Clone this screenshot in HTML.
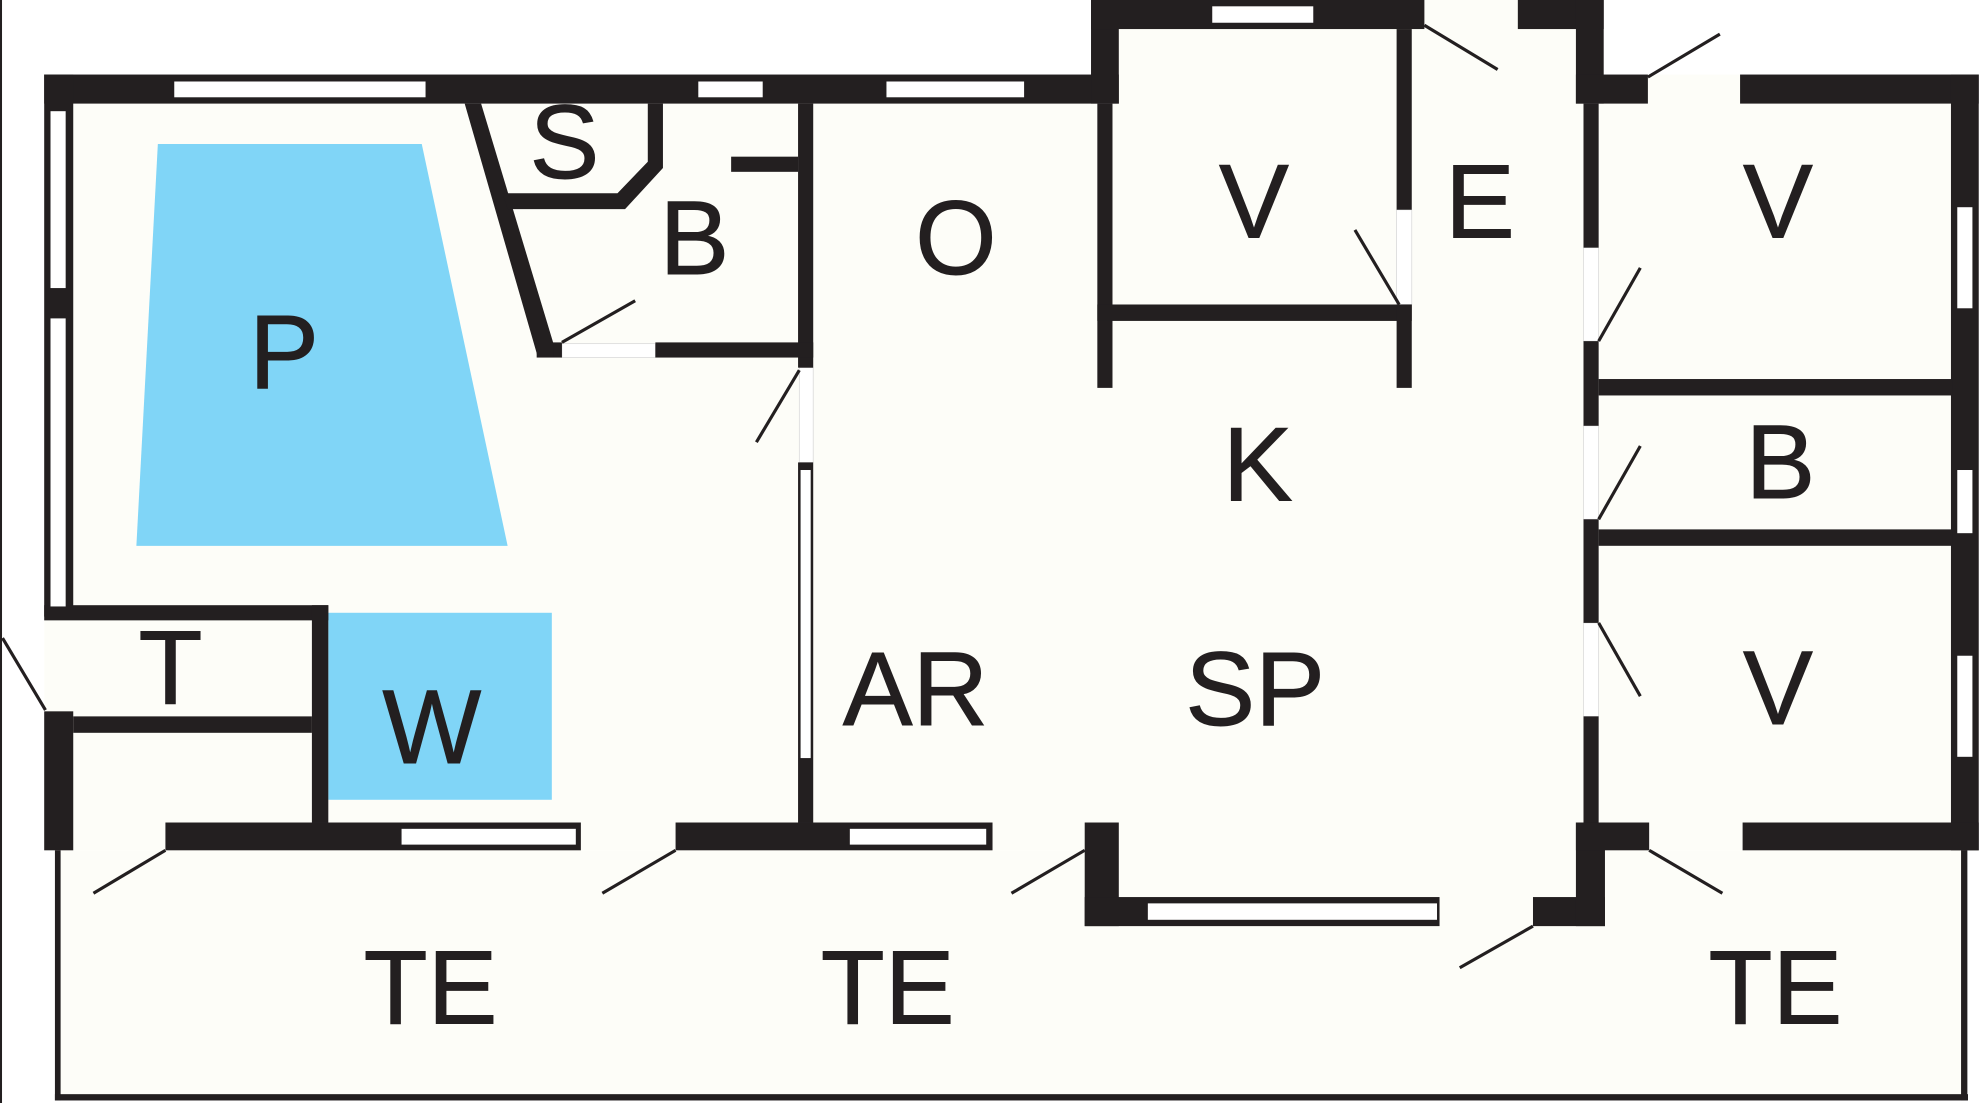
<!DOCTYPE html>
<html>
<head>
<meta charset="utf-8">
<style>
  html, body { margin: 0; padding: 0; background: #ffffff; }
  svg { display: block; }
  text { font-family: "Liberation Sans", Arial, sans-serif; font-size: 83px; fill: #231f20; stroke: #231f20; stroke-width: 0.7; text-anchor: middle; }
</style>
</head>
<body>
<svg width="1980" height="1103" viewBox="0 0 1568 873" preserveAspectRatio="none" xmlns="http://www.w3.org/2000/svg">
  <rect x="0" y="0" width="1568" height="873" fill="#ffffff"/>
  <!-- left page border -->
  <rect x="0" y="0" width="1.6" height="873" fill="#231f20"/>

  <!-- floor fills -->
  <g fill="#fdfdf8">
    <rect x="44" y="673" width="1513" height="197"/>
    <rect x="35" y="59" width="1532" height="614"/>
    <rect x="864" y="0" width="406" height="82"/>
    <rect x="859" y="651" width="412" height="82"/>
  </g>

  <!-- terrace outline -->
  <g fill="#231f20">
    <rect x="43.5" y="673" width="4.5" height="198"/>
    <rect x="43.5" y="866" width="1515" height="5"/>
    <rect x="1553" y="673" width="5" height="198"/>
  </g>

  <!-- blue areas -->
  <polygon points="125,114 334,114 402,432 108,432" fill="#80d5f7"/>
  <rect x="260" y="485" width="177" height="148" fill="#80d5f7"/>

  <!-- door openings (light strips) -->
  <g fill="#ffffff" stroke="#d8d8d8" stroke-width="0.6">
    <rect x="445" y="272" width="74" height="11"/>
    <rect x="633" y="291" width="11" height="75"/>
    <rect x="1106" y="166" width="12" height="75"/>
    <rect x="1254" y="196" width="12" height="74"/>
    <rect x="1254" y="337" width="12" height="74"/>
    <rect x="1254" y="493" width="12" height="74"/>
  </g>

  <!-- walls -->
  <g fill="#231f20">
    <rect x="35" y="59" width="851" height="23"/>
    <rect x="35" y="59" width="23" height="429"/>
    <rect x="35" y="563" width="23" height="110"/>
    <rect x="864" y="0" width="22" height="82"/>
    <rect x="864" y="0" width="264" height="23"/>
    <rect x="1202" y="0" width="68" height="23"/>
    <rect x="1248" y="0" width="22" height="82"/>
    <rect x="1248" y="59" width="57" height="23"/>
    <rect x="1378" y="59" width="189" height="23"/>
    <rect x="1545" y="59" width="22" height="614"/>
    <rect x="131" y="651" width="329" height="22"/>
    <rect x="535" y="651" width="251" height="22"/>
    <rect x="859" y="651" width="27" height="82"/>
    <rect x="859" y="710" width="281" height="23"/>
    <rect x="1214" y="710" width="57" height="23"/>
    <rect x="1248" y="651" width="23" height="82"/>
    <rect x="1248" y="651" width="58" height="22"/>
    <rect x="1380" y="651" width="187" height="22"/>

    <rect x="632" y="82" width="12" height="209"/>
    <rect x="632" y="366" width="12" height="285"/>
    <rect x="579" y="124" width="53" height="12"/>
    <rect x="425" y="271" width="20" height="12"/>
    <rect x="519" y="271" width="125" height="12"/>
    <polygon points="368,82 381,82 438,271 438,283 426,283"/>
    <polygon points="513,82 525,82 525,133 495,165.5 402,165.5 398,153 489,153 513,128"/>

    <rect x="869" y="82" width="12" height="225"/>
    <rect x="869" y="241" width="249" height="13"/>
    <rect x="1106" y="23" width="12" height="143"/>
    <rect x="1106" y="241" width="12" height="66"/>

    <rect x="1254" y="82" width="12" height="114"/>
    <rect x="1254" y="270" width="12" height="67"/>
    <rect x="1254" y="411" width="12" height="82"/>
    <rect x="1254" y="567" width="12" height="84"/>
    <rect x="1266" y="300" width="280" height="13"/>
    <rect x="1266" y="419" width="280" height="13"/>

    <rect x="35" y="479" width="225" height="12"/>
    <rect x="247" y="479" width="13" height="172"/>
    <rect x="58" y="567" width="189" height="13"/>
  </g>

  <!-- windows -->
  <g fill="#ffffff">
    <rect x="138" y="64.5" width="199" height="12.5"/>
    <rect x="553" y="64.5" width="51" height="12.5"/>
    <rect x="702" y="64.5" width="109" height="12.5"/>
    <rect x="960" y="5" width="80" height="13"/>
    <rect x="40" y="88" width="12" height="140"/>
    <rect x="40" y="252" width="12" height="228"/>
    <rect x="1550" y="164" width="12" height="80"/>
    <rect x="1550" y="372" width="12" height="50"/>
    <rect x="1550" y="519" width="12" height="80"/>
    <rect x="318" y="656" width="138" height="12.5"/>
    <rect x="673" y="656" width="108" height="12.5"/>
    <rect x="909" y="715" width="229" height="13"/>
    <rect x="634" y="372" width="8" height="228"/>
  </g>

  <!-- door swings -->
  <g stroke="#231f20" stroke-width="2.5" fill="none" stroke-linecap="butt">
    <line x1="36" y1="562" x2="2" y2="505"/>
    <line x1="445" y1="271" x2="503" y2="238"/>
    <line x1="633" y1="293" x2="599" y2="350"/>
    <line x1="1128" y1="20" x2="1186" y2="55"/>
    <line x1="1108" y1="241" x2="1073" y2="182"/>
    <line x1="1305" y1="61" x2="1362" y2="27"/>
    <line x1="1266" y1="270" x2="1299" y2="212"/>
    <line x1="1266" y1="411" x2="1299" y2="353"/>
    <line x1="1266" y1="493" x2="1299" y2="551"/>
    <line x1="131" y1="673" x2="74" y2="707"/>
    <line x1="535" y1="673" x2="477" y2="707"/>
    <line x1="859" y1="673" x2="801" y2="707"/>
    <line x1="1214" y1="733" x2="1156" y2="766"/>
    <line x1="1306" y1="673" x2="1364" y2="707"/>
  </g>

  <!-- labels -->
  <text x="225" y="307">P</text>
  <text x="447" y="141">S</text>
  <text x="550" y="217">B</text>
  <text x="757" y="217">O</text>
  <text x="993" y="188">V</text>
  <text x="1172" y="188">E</text>
  <text x="1408" y="188">V</text>
  <text x="996" y="396">K</text>
  <text x="1410" y="394">B</text>
  <text x="135" y="557">T</text>
  <text x="342" y="604">W</text>
  <text x="725" y="574">AR</text>
  <text x="994" y="574">SP</text>
  <text x="1408" y="573">V</text>
  <text x="341" y="810">TE</text>
  <text x="703" y="810">TE</text>
  <text x="1406" y="810">TE</text>
</svg>
</body>
</html>
